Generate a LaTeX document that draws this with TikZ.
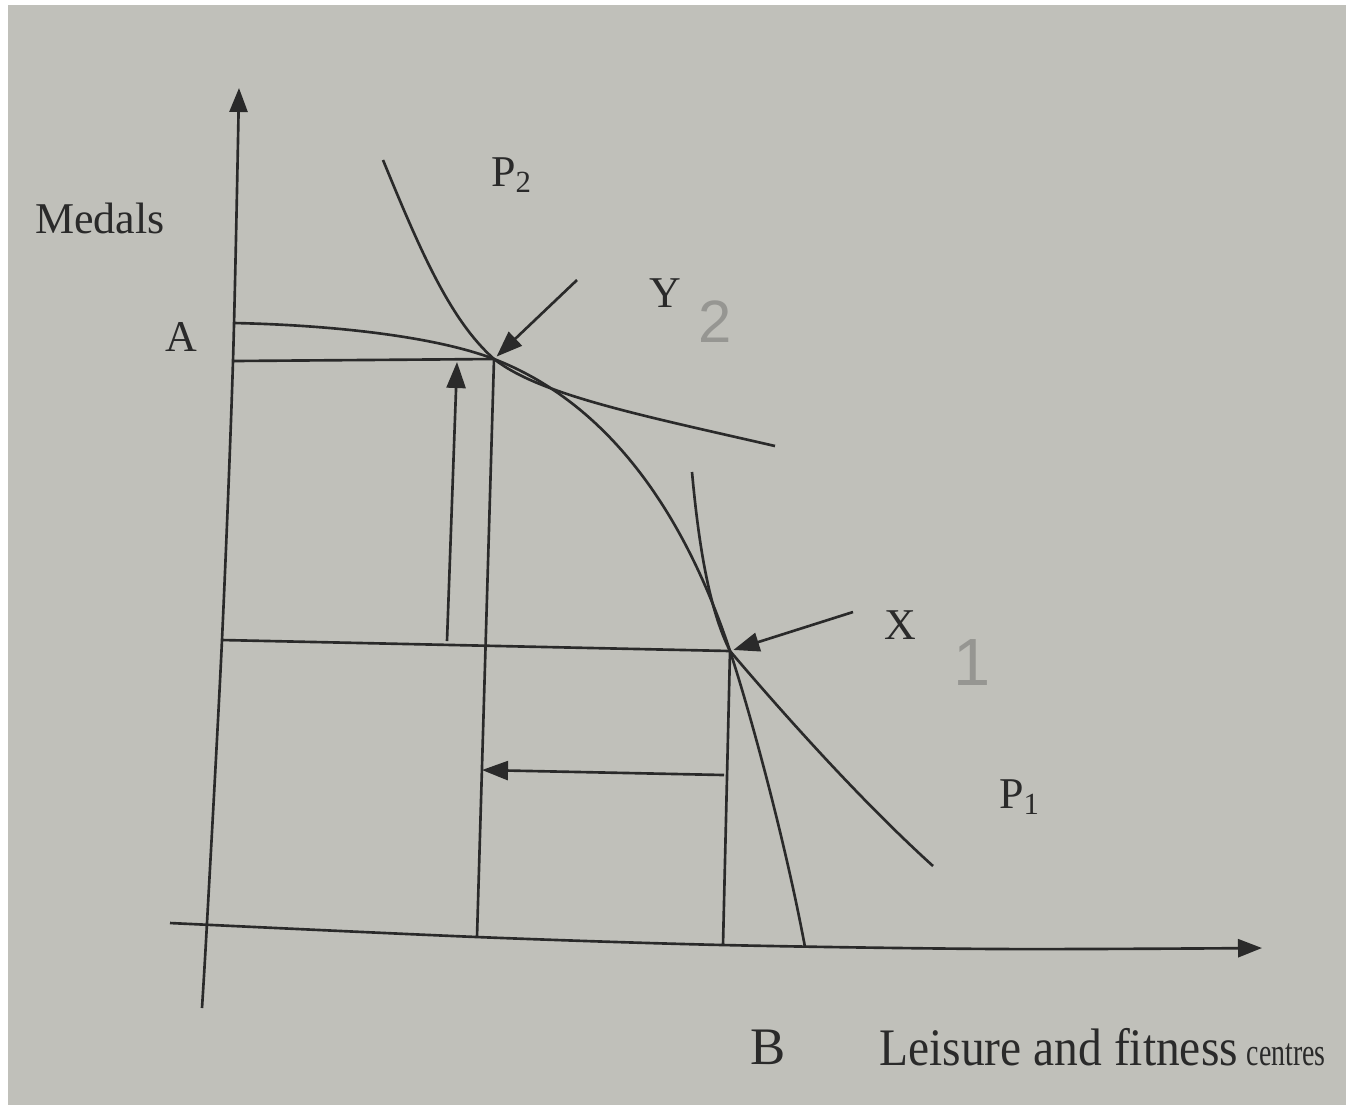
\documentclass[tikz,border=0pt]{standalone}
\usepackage{graphicx}
\usepackage{fontspec}
\setmainfont{Liberation Serif}
\newfontfamily\handfont{Liberation Sans}
\usetikzlibrary{arrows.meta}
\definecolor{paper}{RGB}{192,192,186}
\definecolor{ink}{RGB}{42,42,42}
\definecolor{pencil}{RGB}{150,150,146}
\begin{document}
\begin{tikzpicture}[x=0.01cm,y=-0.01cm, line width=0.75pt, draw=ink,
  lbl/.style={font=\fontsize{12.5}{14}\selectfont, text=ink, inner sep=0pt},
  biglbl/.style={font=\fontsize{15}{17}\selectfont, text=ink, inner sep=0pt},
  hand/.style={font=\handfont\fontsize{17}{19}\selectfont, text=pencil, inner sep=0pt},
  ptr/.style={-{Triangle[length=0.26cm,width=0.19cm]}},
  axisarrow/.style={-{Triangle[length=0.24cm,width=0.18cm]}}]

\fill[white] (0,0) rectangle (1346,1105);
\fill[paper] (8,5) rectangle (1346,1105);
\useasboundingbox (0,0) rectangle (1346,1105);

% key points
\coordinate (O1) at (202,1008);
\coordinate (Ytop) at (239,88);
\coordinate (Xl) at (170,923);
\coordinate (Xr) at (1262,948);
\coordinate (A) at (234,323);
\coordinate (Ya) at (233,361);
\coordinate (Xa) at (222,640);
\coordinate (Y) at (494,359);
\coordinate (X) at (730,651);
\coordinate (Yb) at (477,937);
\coordinate (Xb) at (723,945);
\coordinate (B) at (805,947);

% axes (slightly bowed, as on the photographed page)
\draw[axisarrow] plot[smooth, tension=0.5] coordinates {(O1) (207,923) (Xa) (Ya) (Ytop)};
\draw[axisarrow] plot[smooth, tension=0.5] coordinates {(Xl) (Yb) (Xb) (1000,949) (Xr)};

% production possibility frontier A-B
\draw (A) .. controls (330,325) and (434,336) .. (Y)
          .. controls (600,400) and (680,500) .. (X)
          .. controls (750,712) and (785,840) .. (B);

% indifference curve P2
\draw (383,160) .. controls (420,250) and (450,320) .. (Y)
                .. controls (540,395) and (640,415) .. (775,446);

% indifference curve P1
\draw (692,472) .. controls (700,560) and (712,615) .. (X)
                .. controls (780,710) and (860,800) .. (933,866);

% guide lines
\draw (Ya) -- (Y);
\draw (Y) -- (Yb);
\draw (Xa) -- (X);
\draw (X) -- (Xb);

% arrows
\coordinate (u0) at (447,641);
\coordinate (u1) at (457,362);
\draw[ptr] (u0) -- (u1);
\coordinate (l0) at (724,775);
\coordinate (l1) at (482,770);
\draw[ptr] (l0) -- (l1);
\coordinate (ya0) at (577,280);
\draw[ptr, shorten >=1pt] (ya0) -- (Y);
\coordinate (xa0) at (853,612);
\draw[ptr, shorten >=1pt] (xa0) -- (X);

% labels
\node[lbl] (medals) at (100,218) {Medals};
\node[lbl] (lA) at (181,337) {A};
\node[lbl] (lP2) at (512,175) {P\textsubscript{2}};
\node[lbl] (lY) at (665,293) {Y};
\node[lbl] (lX) at (900,625) {X};
\node[lbl] (lP1) at (1020,797) {P\textsubscript{1}};
\node[biglbl] (lB) at (768,1047) {B};
\node[biglbl, anchor=west] (lLeis) at (878,1047) {\scalebox{0.9}[1]{Leisure and fitness}\,{\fontsize{11}{13}\selectfont\scalebox{0.72}[1]{centres}}};

% pencil annotations
\node[hand] (h2) at (715,322) {2};
\node[hand, font=\handfont\fontsize{19}{21}\selectfont] (h1) at (972,662) {1};
\end{tikzpicture}
\end{document}
